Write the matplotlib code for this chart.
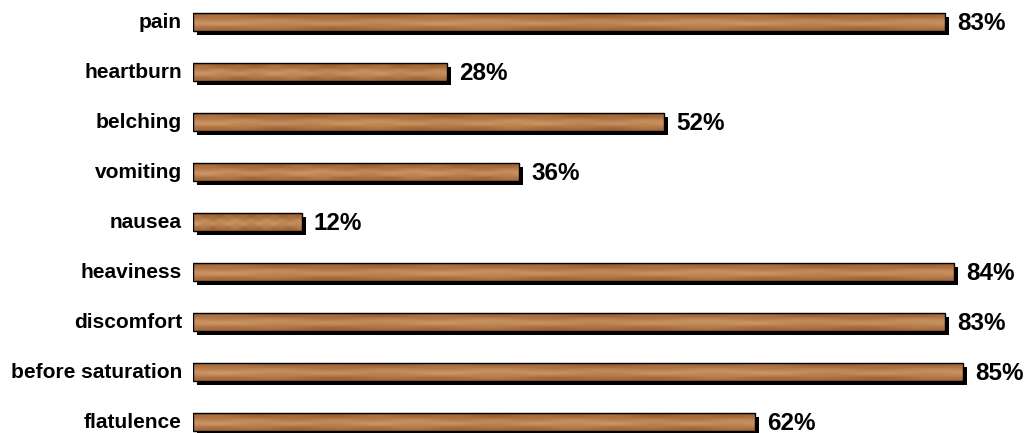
import numpy as np
import matplotlib
matplotlib.use("Agg")
import matplotlib.pyplot as plt
from matplotlib.patches import Rectangle

categories = ["pain", "heartburn", "belching", "vomiting", "nausea",
              "heaviness", "discomfort", "before saturation", "flatulence"]
values = [83, 28, 52, 36, 12, 84, 83, 85, 62]
value_labels = ["83%", "28%", "52%", "36%", "12%", "84%", "83%", "85%", "62%"]

W, H = 1026, 433
fig = plt.figure(figsize=(W / 100, H / 100), dpi=100)
left_px = 193
px_per_unit = 9.06
ax = fig.add_axes([left_px / W, 0, (W - left_px) / W, 1])
ax.set_xlim(0, (W - left_px) / px_per_unit)
row_px = 50
top_px = 22
ax.set_ylim(len(categories) - 1 + (H - (top_px + row_px * (len(categories) - 1))) / row_px,
            -top_px / row_px)
ax.axis("off")

bar_h = 18 / row_px
dx = 4 / px_per_unit
dy = 4 / row_px

# wood-like texture (deterministic, purely decorative)
tx = np.linspace(0, 1, 120)
ty = np.linspace(0, 1, 10)
X, Y = np.meshgrid(tx, ty)
grain = 0.35 + 0.65 * np.exp(-((Y - 0.55) / 0.28) ** 2) \
    + 0.10 * np.sin(2 * np.pi * X * 7) * np.sin(2 * np.pi * Y * 2) \
    + 0.06 * np.sin(2 * np.pi * X * 3 + 1.0)
grain[0, :] *= 0.6
grain = (grain - grain.min()) / (grain.max() - grain.min())
dark = np.array([150, 90, 45]) / 255
light = np.array([205, 150, 100]) / 255
tex = dark[None, None, :] * (1 - grain[..., None]) + light[None, None, :] * grain[..., None]

for i, (cat, v, lab) in enumerate(zip(categories, values, value_labels)):
    y0 = i - bar_h / 2
    ax.add_patch(Rectangle((dx, y0 + dy), v, bar_h, facecolor="black", edgecolor="none", zorder=1))
    im = ax.imshow(tex, extent=(0, v, y0 + bar_h, y0), aspect="auto", zorder=2,
                   interpolation="bilinear")
    rect = Rectangle((0, y0), v, bar_h, facecolor="none", edgecolor="black", linewidth=1.0, zorder=3)
    ax.add_patch(rect)
    im.set_clip_path(rect)
    ax.text(v + 12 / px_per_unit, i + 0.03, lab, ha="left", va="center",
            fontsize=17.5, fontweight="bold", family="Liberation Sans", color="black")
    ax.text(-11 / px_per_unit, i, cat, ha="right", va="center",
            fontsize=15, fontweight="bold", family="Liberation Sans", color="black",
            clip_on=False)

fig.savefig("out.png", dpi=100)
